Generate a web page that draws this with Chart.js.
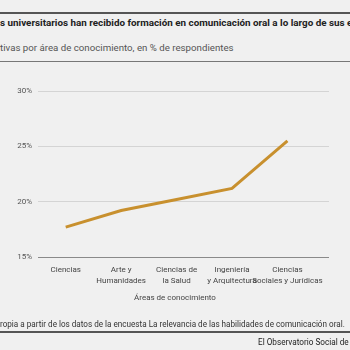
<!DOCTYPE html>
<html><head><meta charset="utf-8">
<script src="https://cdn.jsdelivr.net/npm/chart.js@4/dist/chart.umd.min.js"></script>
<style>
html,body{margin:0;padding:0;background:#f0f0f0;width:350px;height:350px;overflow:hidden;font-family:Roboto,"Liberation Sans",sans-serif;}
#wrap{position:relative;width:350px;height:350px;overflow:hidden;}
.t{position:absolute;white-space:nowrap;}
.rule{position:absolute;left:0;width:350px;}
canvas{position:absolute;left:0;top:0;}
</style></head><body>
<div id="wrap">
<div class="rule" style="top:12px;height:2px;background:#555;"></div>
<div class="t" style="left:0;top:17px;font-size:9.85px;font-weight:bold;color:#222;">s universitarios han recibido formación en comunicación oral a lo largo de sus estudios</div>
<div class="t" style="left:0;top:42px;font-size:9.7px;color:#555;">tivas por área de conocimiento, en % de respondientes</div>
<div class="rule" style="top:61px;height:1px;background:#777;"></div>
<canvas id="c" width="350" height="350"></canvas>
<div class="t" style="left:0;width:350px;text-align:center;top:293px;font-size:8px;color:#444;">Áreas de conocimiento</div>
<div class="t" style="left:0;top:319px;font-size:8.15px;color:#333;">ropia a partir de los datos de la encuesta La relevancia de las habilidades de comunicación oral.</div>
<div class="rule" style="top:331px;height:2px;background:#555;"></div>
<div class="t" style="left:258px;top:337px;font-size:8.2px;color:#222;">El Observatorio Social de "la Caixa"</div>
</div>
<script>
const categories = [
  ["Ciencias"],
  ["Arte y", "Humanidades"],
  ["Ciencias de", "la Salud"],
  ["Ingeniería", "y Arquitectura"],
  ["Ciencias", "Sociales y Jurídicas"]
];
const values = [17.7, 19.2, 20.2, 21.2, 25.5];
const yTicks = [15, 20, 25, 30];

new Chart(document.getElementById('c'), {
  type: 'line',
  data: {
    datasets: [{
      data: values.map((v, i) => ({x: i, y: v})),
      borderColor: '#c8902e',
      borderWidth: 3,
      pointRadius: 0,
      tension: 0,
      fill: false
    }]
  },
  options: {
    responsive: false,
    animation: false,
    layout: {padding: {top: 91, left: 0, right: 21, bottom: 63}},
    plugins: {legend: {display: false}, tooltip: {enabled: false}},
    scales: {
      x: {
        type: 'linear',
        min: -0.5,
        max: 4.75,
        grid: {display: false},
        border: {display: false},
        afterBuildTicks: (axis) => { axis.ticks = categories.map((_, i) => ({value: i})); },
        afterFit: (scale) => { scale.height = 30; },
        ticks: {
          autoSkip: false,
          maxRotation: 0,
          padding: 0,
          color: '#444',
          font: {family: 'Roboto', size: 8, lineHeight: 1.35},
          callback: (v) => categories[v]
        }
      },
      y: {
        min: 15,
        max: 30,
        afterBuildTicks: (axis) => { axis.ticks = yTicks.map(v => ({value: v})); },
        afterFit: (scale) => { scale.width = 38; },
        grid: {
          drawTicks: false,
          color: (ctx) => ctx.tick && ctx.tick.value === 15 ? '#8a8a8a' : '#d4d4d4',
          lineWidth: 1
        },
        border: {display: false},
        ticks: {
          padding: 6,
          color: '#555',
          font: {family: 'Roboto', size: 8},
          callback: (v) => v + '%'
        }
      }
    }
  }
});
</script>
</body></html>
